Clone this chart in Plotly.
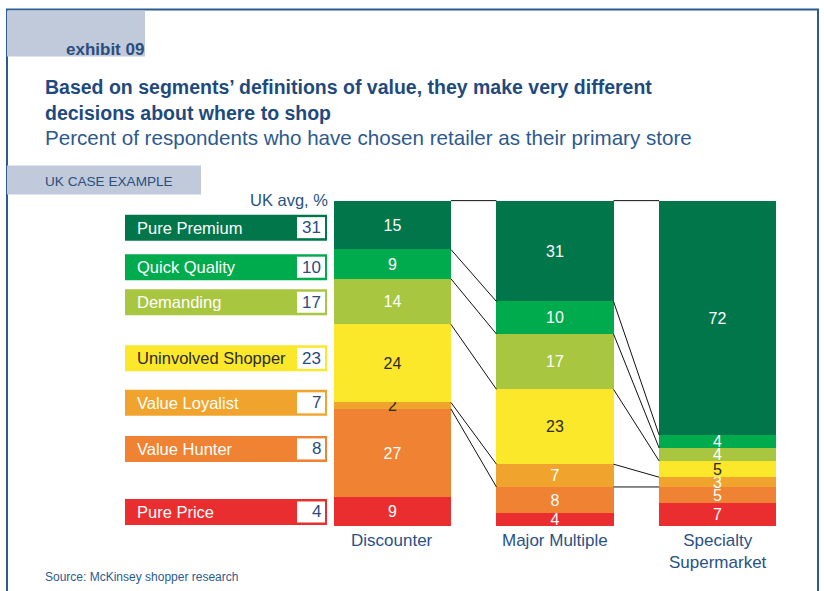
import plotly.graph_objects as go

# ---------------- data ----------------
segments = ["Pure Premium", "Quick Quality", "Demanding", "Uninvolved Shopper",
            "Value Loyalist", "Value Hunter", "Pure Price"]
uk_avg = [31, 10, 17, 23, 7, 8, 4]
retailers = ["Discounter", "Major Multiple", "Specialty<br>Supermarket"]
discounter = [15, 9, 14, 24, 2, 27, 9]
major_multiple = [31, 10, 17, 23, 7, 8, 4]
specialty = [72, 4, 4, 5, 3, 5, 7]

# ---------------- styles ----------------
seg_colors = ["#00764a", "#00ab4e", "#a8c63f", "#fbe82b", "#f0a42d", "#ef8233", "#ea2e30"]
dark_txt = "#2a2a2a"
txt_colors = [
    ["white"] * 3,
    ["white"] * 3,
    ["white"] * 3,
    [dark_txt] * 3,
    [dark_txt, "white", "white"],
    ["white"] * 3,
    ["white"] * 3,
]
legend_txt = ["white", "white", "white", dark_txt, "white", "white", "white"]
blue = "#2a5283"
title_blue = "#1f4a7e"
gray_box = "#c1cadb"
FONT = "Liberation Sans, Arial, sans-serif"

W, H = 824, 591
YMAX = 100.5
L, R, B = 311, 25, 65
T = 201 - 325 * (YMAX - 100) / 100
PW, PH = W - L - R, H - T - B


def X(px):
    return (px - L) / PW


def Y(py):
    return (H - B - py) / PH


series = [discounter, major_multiple, specialty]
xs = list(range(len(retailers)))
bar_w = 0.72

fig = go.Figure()

# stacked bars, bottom segment first
for k in range(len(segments) - 1, -1, -1):
    vals = [s[k] for s in series]
    fig.add_trace(go.Bar(
        x=xs, y=vals, name=segments[k], width=bar_w,
        marker=dict(color=seg_colors[k], line=dict(width=0)),
        text=[str(v) for v in vals], textposition="inside",
        insidetextanchor="middle", textangle=0,
        textfont=dict(family=FONT, size=16, color=txt_colors[k]),
        hoverinfo="skip", showlegend=False,
    ))

# connecting lines between segment boundaries
lx, ly = [], []
for i in range(len(series) - 1):
    a, b = series[i], series[i + 1]
    for k in range(len(segments) - 1):
        ya = 100 - sum(a[:k])
        yb = 100 - sum(b[:k])
        lx += [xs[i] + bar_w / 2, xs[i + 1] - bar_w / 2, None]
        ly += [ya, yb, None]
fig.add_trace(go.Scatter(x=lx, y=ly, mode="lines",
                         line=dict(color="#111111", width=1),
                         hoverinfo="skip", showlegend=False))

shapes = []
annotations = []

# frame
shapes.append(dict(type="path", xref="paper", yref="paper",
                   path=f"M {X(7)},{Y(620)} L {X(7)},{Y(10)} L {X(818)},{Y(10)} L {X(818)},{Y(620)}",
                   line=dict(color="#2c5b8f", width=2), layer="below"))
# gray boxes
shapes.append(dict(type="rect", xref="paper", yref="paper",
                   x0=X(7), x1=X(145), y0=Y(57), y1=Y(11),
                   fillcolor=gray_box, line=dict(width=0), layer="below"))
shapes.append(dict(type="rect", xref="paper", yref="paper",
                   x0=X(7), x1=X(201), y0=Y(195), y1=Y(166),
                   fillcolor=gray_box, line=dict(width=0), layer="below"))


def ann(text, px, py, size, color, xanchor="left", bold=False, family=FONT):
    annotations.append(dict(
        text=f"<b>{text}</b>" if bold else text, xref="paper", yref="paper",
        x=X(px), y=Y(py), xanchor=xanchor, yanchor="middle", showarrow=False,
        font=dict(family=family, size=size, color=color)))


ann("exhibit 09", 64, 50, 17, "#2b4d7b", bold=True)
ann("Based on segments\u2019 definitions of value, they make very different", 43, 88, 19.5, title_blue, bold=True)
ann("decisions about where to shop", 43, 113, 19.5, title_blue, bold=True)
ann("Percent of respondents who have chosen retailer as their primary store", 43, 138, 20.6, "#2d5a8e")
ann("UK CASE EXAMPLE", 43, 182, 13.6, "#2b4f7e")
ann("UK avg, %", 330, 200, 16.5, blue, xanchor="right")
ann("Source: McKinsey shopper research", 43, 577, 12, "#2d5a8e")

# legend rows
row_centers = [228, 267.5, 302.5, 358.5, 403, 449, 512]
for k, seg in enumerate(segments):
    cy = row_centers[k]
    shapes.append(dict(type="rect", xref="paper", yref="paper",
                       x0=X(125), x1=X(327), y0=Y(cy + 13), y1=Y(cy - 13),
                       fillcolor=seg_colors[k], line=dict(width=0)))
    shapes.append(dict(type="rect", xref="paper", yref="paper",
                       x0=X(297), x1=X(325), y0=Y(cy + 10.5), y1=Y(cy - 10.5),
                       fillcolor="white", line=dict(width=0)))
    ann(seg, 135, cy, 16.5, legend_txt[k])
    ann(str(uk_avg[k]), 323, cy, 17, "#2a4d7e", xanchor="right")

# category labels under bars
for i, name in enumerate(retailers):
    annotations.append(dict(text=name, x=xs[i], y=0, xref="x", yref="y",
                            xanchor="center", yanchor="top", yshift=-3,
                            showarrow=False,
                            font=dict(family=FONT, size=17, color=blue)))

fig.update_layout(
    width=W, height=H, barmode="stack", bargap=0,
    margin=dict(l=L, r=R, t=T, b=B, pad=0),
    paper_bgcolor="white", plot_bgcolor="rgba(0,0,0,0)",
    xaxis=dict(range=[-0.5, 2.5], visible=False, fixedrange=True),
    yaxis=dict(range=[0, YMAX], visible=False, fixedrange=True),
    shapes=shapes, annotations=annotations,
    uniformtext=dict(minsize=16, mode="show"),
)

fig.write_html("out.html", config={"displayModeBar": False},
               post_script="document.body.style.margin='0px';document.body.style.overflow='hidden';")
